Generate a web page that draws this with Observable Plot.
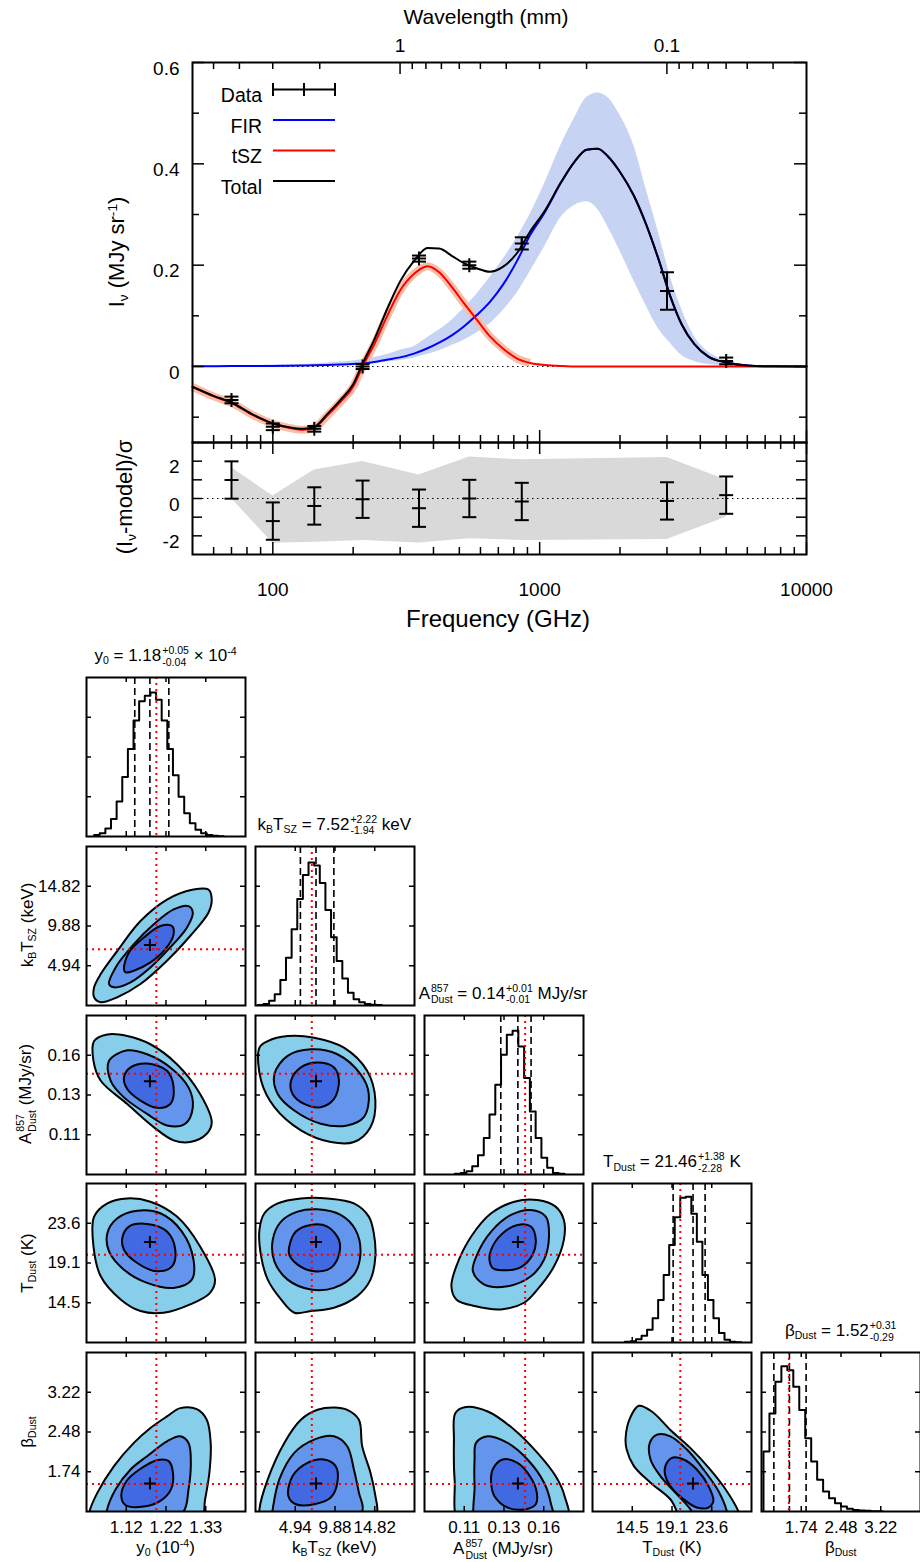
<!DOCTYPE html>
<html>
<head>
<meta charset="utf-8">
<script src="https://cdn.jsdelivr.net/npm/d3@7"></script>
<script src="https://cdn.jsdelivr.net/npm/@observablehq/plot@0.6"></script>
<style>
  body { margin: 0; background: #fff; }
  #root { position: relative; width: 920px; height: 1562px; overflow: hidden; background: #fff;
          font-family: "Liberation Sans", Arial, Helvetica, sans-serif; color: #000; }
  .lbl { position: absolute; white-space: nowrap; line-height: 1; }
  .lbl sub, .lbl sup { font-size: 0.62em; line-height: 0; position: relative; vertical-align: baseline; }
  .lbl sub { top: 0.32em; }
  .lbl sup { top: -0.55em; }
  .ss { display: inline-block; font-size: 0.62em; line-height: 1.1; vertical-align: -0.45em; text-align: left; margin-left: 1px; }
  .ss > span { display: block; }
</style>
</head>
<body>
<div id="root"></div>
<script>
// ===================== DATA: SED panel =====================
const freqData     = [70, 100, 143, 217, 353, 545, 857, 3000, 5000];          // GHz
const intensity    = [-0.066, -0.119, -0.123, 0.000, 0.213, 0.200, 0.243, 0.149, 0.011]; // MJy/sr
const intensityErr = [0.0066, 0.0066, 0.0056, 0.005, 0.006, 0.007, 0.012, 0.037, 0.0066];

const residual     = [0.99, -1.21, -0.40, -0.04, -0.52, 0.00, -0.16, -0.13, 0.18];
const residualErr  = [1, 1, 1, 1, 1, 1, 1, 1, 1];

const bandFreq = [70, 100, 143, 217, 353, 545, 857, 3000, 5000];
const bandLow  = [0.0, -2.40, -2.35, -2.25, -2.38, -2.15, -2.25, -2.20, -1.00];
const bandHigh = [1.65, 0.14, 1.53, 1.98, 1.26, 2.22, 2.07, 2.20, 0.99];

const modelFreq  = [50, 60, 70, 85, 100, 115, 130, 143, 160, 180, 200, 217, 240, 270, 300, 340, 380, 420, 470, 520, 580, 650, 730, 820, 920, 1050, 1200, 1350, 1500, 1650, 1800, 2000, 2250, 2500, 2800, 3100, 3400, 3800, 4300, 5000, 6000, 7500, 10000];
const tszModel   = [-0.040, -0.059, -0.072, -0.097, -0.113, -0.121, -0.125, -0.121, -0.097, -0.069, -0.040, 0.000, 0.044, 0.103, 0.150, 0.184, 0.198, 0.186, 0.156, 0.125, 0.093, 0.060, 0.035, 0.016, 0.007, 0.003, 0.001, 0, 0, 0, 0, 0, 0, 0, 0, 0, 0, 0, 0, 0, 0, 0, 0];
const firModel   = [0.0005, 0.0006, 0.0008, 0.001, 0.0012, 0.0015, 0.002, 0.0025, 0.003, 0.004, 0.005, 0.006, 0.009, 0.014, 0.018, 0.026, 0.036, 0.047, 0.062, 0.079, 0.101, 0.127, 0.162, 0.207, 0.259, 0.306, 0.362, 0.404, 0.428, 0.430, 0.415, 0.384, 0.338, 0.282, 0.209, 0.136, 0.084, 0.044, 0.019, 0.008, 0.002, 0.0003, 0];
const firLow     = [0, 0, 0, 0, 0, 0.0005, 0.001, 0.001, 0.0015, 0.002, 0.003, 0.004, 0.006, 0.009, 0.012, 0.017, 0.024, 0.031, 0.042, 0.052, 0.066, 0.084, 0.111, 0.144, 0.187, 0.239, 0.294, 0.318, 0.325, 0.310, 0.276, 0.228, 0.170, 0.121, 0.073, 0.045, 0.022, 0.010, 0.004, 0.0015, 0, 0, 0];
const firHigh    = [0.001, 0.001, 0.0015, 0.002, 0.003, 0.0035, 0.004, 0.005, 0.007, 0.009, 0.011, 0.014, 0.018, 0.024, 0.032, 0.040, 0.057, 0.072, 0.092, 0.115, 0.142, 0.175, 0.212, 0.253, 0.300, 0.364, 0.436, 0.490, 0.531, 0.540, 0.531, 0.496, 0.437, 0.352, 0.261, 0.174, 0.114, 0.059, 0.028, 0.011, 0.003, 0.0005, 0];
const totalModel = [-0.040, -0.058, -0.071, -0.096, -0.112, -0.120, -0.123, -0.119, -0.094, -0.065, -0.035, 0.006, 0.053, 0.117, 0.168, 0.210, 0.234, 0.233, 0.218, 0.204, 0.194, 0.187, 0.197, 0.223, 0.266, 0.309, 0.363, 0.404, 0.428, 0.430, 0.415, 0.384, 0.338, 0.282, 0.209, 0.136, 0.084, 0.044, 0.019, 0.008, 0.002, 0.0003, 0];
const tszBandMaxFreq = 920;   // the tSZ uncertainty band vanishes beyond this frequency

const freqMajorTicks   = [100, 1000, 10000];
const freqMinorTicks   = [60, 70, 80, 90, 200, 300, 400, 500, 600, 700, 800, 900, 2000, 3000, 4000, 5000, 6000, 7000, 8000, 9000];
const freqTickLabels   = ["100", "1000", "10000"];
const wavelengthMajor  = [1, 0.1];           // mm
const wavelengthLabels = ["1", "0.1"];
const wavelengthMinor  = [5, 4, 3, 2, 0.9, 0.8, 0.7, 0.6, 0.5, 0.4, 0.3, 0.2, 0.09, 0.08, 0.07, 0.06, 0.05, 0.04];
const intensityMajor   = [0, 0.2, 0.4, 0.6];
const intensityLabels  = ["0", "0.2", "0.4", "0.6"];
const intensityMinor   = [-0.1, 0.1, 0.3, 0.5];
const residualTicks    = [-2, -1, 0, 1, 2];
const residualLabelTicks = [-2, 0, 2];
const residualLabels   = ["-2", "0", "2"];
const legendNames      = ["Data", "FIR", "tSZ", "Total"];

// ===================== DATA: corner plot =====================
// parameters: y0 (1e-4), kB T_SZ (keV), A_Dust^857 (MJy/sr), T_Dust (K), beta_Dust
const paramLo    = [1.0125, 0, 0.0875, 9.95, 1.0];
const paramHi    = [1.4325, 19.76, 0.1815, 28.15, 3.96];
const paramTicks = [[1.1175, 1.2225, 1.3275], [4.94, 9.88, 14.82], [0.111, 0.1345, 0.158], [14.5, 19.05, 23.6], [1.74, 2.48, 3.22]];
const paramTickLabels = [["1.12", "1.22", "1.33"], ["4.94", "9.88", "14.82"], ["0.11", "0.13", "0.16"], ["14.5", "19.1", "23.6"], ["1.74", "2.48", "3.22"]];
const trueValues = [1.197, 7.0, 0.147, 20.0, 1.51];
const bestFit    = [1.18, 7.52, 0.1427, 21.46, 1.52];
const paramQuantiles = [[1.14, 1.18, 1.23], [5.58, 7.52, 9.74], [0.1326, 0.1427, 0.1505], [19.18, 21.46, 22.84], [1.23, 1.52, 1.83]];
const titleValue = ["1.18", "7.52", "0.14", "21.46", "1.52"];
const titlePlus  = ["+0.05", "+2.22", "+0.01", "+1.38", "+0.31"];
const titleMinus = ["-0.04", "-1.94", "-0.01", "-2.28", "-0.29"];

const histStart    = [1.0326, 0.29, 0.1055, 13.666, 1.037];
const histBinWidth = [0.014875, 0.70, 0.003408, 0.633, 0.111];
const histY0   = [0.01, 0.02, 0.05, 0.11, 0.22, 0.375, 0.55, 0.73, 0.85, 0.885, 0.906, 0.86, 0.73, 0.55, 0.385, 0.25, 0.146, 0.083, 0.042, 0.02, 0.01, 0.005, 0.002];
const histKT   = [0.003, 0.01, 0.03, 0.07, 0.16, 0.30, 0.48, 0.67, 0.82, 0.90, 0.88, 0.77, 0.60, 0.43, 0.28, 0.17, 0.08, 0.04, 0.02, 0.01, 0.005, 0.003];
const histA    = [0.004, 0.01, 0.021, 0.052, 0.121, 0.23, 0.377, 0.565, 0.753, 0.879, 0.904, 0.805, 0.607, 0.397, 0.23, 0.105, 0.042, 0.01, 0.004];
const histT    = [0.004, 0.008, 0.02, 0.042, 0.08, 0.153, 0.268, 0.425, 0.613, 0.787, 0.91, 0.916, 0.81, 0.634, 0.425, 0.268, 0.153, 0.06, 0.017, 0.005, 0.002];
const histBeta = [0.377, 0.617, 0.816, 0.914, 0.889, 0.785, 0.638, 0.46, 0.314, 0.199, 0.126, 0.084, 0.052, 0.031, 0.018, 0.01, 0.006, 0.004, 0.002, 0.001];
const histTicks = [0.25, 0.5, 0.75];

// credible-region contours [outer, middle, inner], points as [x, y] in data units
const contourY0KT = [
  [[1.0326,2.26],[1.0501,3.91],[1.0939,6.79],[1.1551,10.50],[1.2251,13.17],[1.2951,14.41],[1.3345,14.41],[1.3433,13.17],[1.3345,11.53],[1.2864,8.64],[1.2251,5.56],[1.1551,2.67],[1.0939,1.03],[1.0501,0.41],[1.0326,1.03]],
  [[1.072,2.67],[1.0895,4.73],[1.1376,7.62],[1.1901,10.09],[1.2426,11.94],[1.282,12.35],[1.2934,11.53],[1.2776,9.67],[1.2295,7.0],[1.1814,4.73],[1.1289,2.88],[1.0851,2.26]],
  [[1.1114,4.53],[1.1245,6.59],[1.1639,8.44],[1.2076,9.88],[1.2383,9.88],[1.2426,8.85],[1.2208,7.0],[1.1814,5.35],[1.1376,4.32],[1.1158,4.12]]
];
const contourY0A = [
  [[1.0326,0.1664],[1.0676,0.1703],[1.1201,0.1694],[1.1814,0.1645],[1.2514,0.1527],[1.3126,0.1351],[1.3433,0.1184],[1.3301,0.1116],[1.2864,0.1067],[1.2426,0.1077],[1.1901,0.1155],[1.1201,0.1292],[1.0501,0.1429],[1.0309,0.1547]],
  [[1.072,0.1547],[1.1201,0.1609],[1.1726,0.1586],[1.2339,0.1508],[1.282,0.1390],[1.2934,0.1273],[1.2733,0.1175],[1.2251,0.1165],[1.1726,0.1233],[1.1114,0.1331],[1.0764,0.1429]],
  [[1.1114,0.1449],[1.1289,0.1508],[1.1726,0.1531],[1.2251,0.1488],[1.2426,0.1390],[1.2339,0.1292],[1.1989,0.1269],[1.1551,0.1312],[1.1201,0.1380]]
];
const contourKTA = [
  [[0.49,0.1625],[1.52,0.1664],[3.99,0.1694],[7.29,0.1684],[10.99,0.1625],[13.87,0.1488],[14.90,0.1312],[14.29,0.1155],[12.23,0.1067],[9.35,0.1067],[5.64,0.1136],[2.35,0.1273],[0.70,0.1429]],
  [[2.35,0.1468],[3.99,0.1576],[6.88,0.1615],[10.17,0.1586],[13.05,0.1468],[14.08,0.1351],[13.46,0.1214],[11.40,0.1165],[8.11,0.1175],[4.82,0.1253],[2.76,0.1351]],
  [[4.41,0.1429],[5.64,0.1508],[7.70,0.1537],[9.76,0.1508],[10.37,0.1429],[9.76,0.1322],[8.11,0.1273],[6.05,0.1292],[4.61,0.1351]]
];
const contourY0T = [
  [[1.0326,24.36],[1.0676,25.87],[1.1201,26.44],[1.1814,26.06],[1.2514,24.36],[1.3126,20.95],[1.352,17.15],[1.3389,15.64],[1.2864,14.31],[1.2164,13.36],[1.1551,13.55],[1.1026,14.88],[1.0501,17.53],[1.0309,20.95]],
  [[1.0676,22.46],[1.0939,24.17],[1.1464,25.04],[1.2076,24.74],[1.2645,22.65],[1.2951,19.43],[1.2908,17.15],[1.2426,16.20],[1.1726,16.77],[1.1114,18.29],[1.072,20.38]],
  [[1.107,21.89],[1.1245,23.22],[1.1726,23.52],[1.2251,22.65],[1.247,20.57],[1.2383,18.67],[1.1989,18.10],[1.1464,19.05],[1.1114,20.57]]
];
const contourKTT = [
  [[0.49,22.84],[1.11,24.74],[2.76,25.87],[5.64,26.44],[8.93,26.44],[12.23,25.87],[14.08,24.36],[14.70,22.46],[14.90,19.81],[14.29,17.15],[12.64,15.26],[9.76,13.93],[6.88,13.55],[4.82,13.36],[3.17,14.88],[1.52,17.15],[0.70,19.81]],
  [[2.14,21.70],[3.17,23.79],[5.23,24.93],[7.70,25.19],[10.58,24.55],[12.43,22.84],[13.05,20.19],[12.23,17.72],[9.76,16.20],[6.88,16.02],[3.99,17.15],[2.35,19.24]],
  [[4.20,20.95],[5.02,22.65],[6.88,23.41],[8.93,23.22],[10.37,21.70],[10.37,20.0],[9.35,18.48],[7.29,18.10],[5.23,18.86],[4.20,20.0]]
];
const contourAT = [
  [[0.1034,16.39],[0.1063,18.67],[0.1151,22.08],[0.1269,24.74],[0.1406,26.06],[0.1543,26.25],[0.1650,25.50],[0.1699,23.98],[0.1699,21.70],[0.1641,18.67],[0.1543,16.02],[0.1464,14.50],[0.1327,13.74],[0.1171,14.12],[0.1063,14.88]],
  [[0.1161,18.10],[0.1190,20.19],[0.1269,22.65],[0.1386,24.55],[0.1504,25.12],[0.1592,24.36],[0.1611,22.08],[0.1582,19.43],[0.1504,17.53],[0.1366,16.39],[0.1229,16.58]],
  [[0.1259,19.43],[0.1269,20.57],[0.1327,22.27],[0.1425,23.41],[0.1504,23.22],[0.1533,21.70],[0.1514,20.0],[0.1445,18.59],[0.1347,18.21],[0.1278,18.48]]
];
const contourY0Beta = [
  [[1.0195,0.98],[1.0414,1.351],[1.0851,1.845],[1.1376,2.277],[1.1814,2.554],[1.2251,2.77],[1.2601,2.924],[1.3039,2.905],[1.3301,2.708],[1.3406,2.277],[1.3371,1.721],[1.3258,1.228],[1.3126,0.796],[1.1551,0.611],[1.0169,0.796]],
  [[1.0659,1.012],[1.0895,1.413],[1.1289,1.783],[1.1726,2.03],[1.2251,2.307],[1.2601,2.40],[1.282,2.277],[1.2881,1.906],[1.282,1.413],[1.2671,0.981],[1.1814,0.735],[1.0633,0.735]],
  [[1.1044,1.29],[1.1184,1.567],[1.1551,1.795],[1.1989,1.956],[1.2295,1.937],[1.2409,1.721],[1.2356,1.413],[1.2076,1.197],[1.1639,1.092],[1.1158,1.117]]
];
const contourKTBeta = [
  [[0.49,1.04],[1.52,1.598],[3.58,2.277],[5.64,2.708],[7.70,2.893],[9.76,2.936],[11.40,2.893],[12.85,2.708],[13.26,2.215],[14.29,1.721],[14.90,1.29],[15.11,0.981],[13.87,0.673],[0.70,0.673]],
  [[2.14,1.043],[2.96,1.598],[4.82,2.091],[7.29,2.338],[9.76,2.40],[11.40,2.215],[12.23,1.783],[12.85,1.351],[13.26,1.012],[9.76,0.735],[1.93,0.735]],
  [[4.08,1.29],[4.61,1.66],[6.46,1.906],[8.52,1.968],[9.96,1.845],[10.17,1.536],[9.35,1.259],[7.29,1.135],[5.02,1.135]]
];
const contourABeta = [
  [[0.1057,2.831],[0.1112,2.942],[0.1249,2.862],[0.1406,2.523],[0.1543,2.091],[0.1650,1.66],[0.1703,1.29],[0.1719,0.796],[0.1092,0.735],[0.1053,1.598],[0.1049,2.338]],
  [[0.1180,2.277],[0.1249,2.40],[0.1366,2.277],[0.1484,1.968],[0.1582,1.536],[0.1621,1.166],[0.1631,0.796],[0.1190,0.735],[0.1171,1.475],[0.1171,1.968]],
  [[0.1278,1.783],[0.1337,1.968],[0.1425,1.906],[0.1504,1.629],[0.1539,1.351],[0.1533,1.135],[0.1474,1.043],[0.1366,1.074],[0.1288,1.29],[0.1269,1.536]]
];
const contourTBeta = [
  [[13.74,2.369],[14.23,2.734],[15.26,2.968],[16.78,2.857],[18.86,2.518],[21.14,2.184],[23.41,1.783],[25.31,1.382],[26.63,1.012],[27.2,0.735],[20.76,0.735],[18.86,1.228],[16.59,1.536],[14.69,1.845],[13.86,2.153]],
  [[16.51,2.277],[17.34,2.431],[18.86,2.40],[20.76,2.153],[22.65,1.783],[24.36,1.382],[25.31,1.012],[25.5,0.735],[22.27,0.735],[21.14,1.043],[19.62,1.32],[17.72,1.66],[16.59,1.968]],
  [[18.29,1.845],[19.05,1.999],[20.38,1.968],[21.89,1.783],[23.22,1.475],[23.79,1.197],[23.22,1.074],[21.89,1.074],[20.38,1.228],[18.86,1.475],[18.29,1.66]]
];

// ===================== RENDERING =====================
const root = document.getElementById("root");
const FONT = "'Liberation Sans', Arial, Helvetica, sans-serif";
const baseStyle = {fontFamily: FONT, color: "black", background: "transparent", overflow: "visible"};
const C_MM_GHZ = 299.792458;

const hbar = {draw(ctx, size) { const r = Math.sqrt(size / Math.PI); ctx.moveTo(-r, 0); ctx.lineTo(r, 0); }};
const plus = {draw(ctx, size) { const r = Math.sqrt(size / Math.PI); ctx.moveTo(-r, 0); ctx.lineTo(r, 0); ctx.moveTo(0, -r); ctx.lineTo(0, r); }};

function place(svg, left, top) {
  svg.style.position = "absolute";
  svg.style.left = left + "px";
  svg.style.top = top + "px";
  svg.style.maxWidth = "none";
  svg.style.overflow = "visible";
  root.appendChild(svg);
}
function addLabel(html, x, y, size, rotate) {
  const el = document.createElement("div");
  el.className = "lbl";
  el.style.left = x + "px";
  el.style.top = y + "px";
  el.style.fontSize = size + "px";
  el.style.transform = "translate(-50%, -50%)" + (rotate ? " rotate(-90deg)" : "");
  el.innerHTML = html;
  root.appendChild(el);
}
const ss = (a, b) => `<span class="ss"><span>${a}</span><span>${b}</span></span>`;

const tickStyle = {stroke: "black", strokeWidth: 1.5};
const tBottom = (vals, acc, len, H) => Plot.tickX(vals, {x: acc, insetTop: H - len, ...tickStyle});
const tTop    = (vals, acc, len, H) => Plot.tickX(vals, {x: acc, insetBottom: H - len, ...tickStyle});
const tLeft   = (vals, acc, len, W) => Plot.tickY(vals, {y: acc, insetRight: W - len, ...tickStyle});
const tRight  = (vals, acc, len, W) => Plot.tickY(vals, {y: acc, insetLeft: W - len, ...tickStyle});
const id = d => d;
const dotted0 = {stroke: "black", strokeWidth: 1.2, strokeDasharray: "1.5,3.5"};

// ---------- SED panel ----------
const SED = {left: 192, right: 806, top: 62, bottom: 442};
const H1 = SED.bottom - SED.top, W1 = SED.right - SED.left;
const iM = d3.range(modelFreq.length);
const iTsz = iM.filter(i => modelFreq[i] <= tszBandMaxFreq);
const iD = d3.range(freqData.length);
const fx = i => modelFreq[i];
const curve = "monotone-x";

const sedPlot = Plot.plot({
  width: 920, height: SED.bottom,
  marginTop: SED.top, marginBottom: 0, marginLeft: SED.left, marginRight: 920 - SED.right,
  style: {...baseStyle, fontSize: "19px"},
  x: {type: "log", domain: [50, 10000], axis: null},
  y: {domain: [-0.15, 0.6]},
  marks: [
    Plot.ruleY([0], dotted0),
    Plot.areaY(iM, {x: fx, y1: i => firLow[i], y2: i => firHigh[i], fill: "#c6d3f3", curve}),
    Plot.line(iTsz, {x: fx, y: i => tszModel[i], stroke: "#f7bfa9", strokeWidth: 8, strokeLinecap: "butt", curve}),
    Plot.line(iM, {x: fx, y: i => firModel[i], stroke: "#0000ff", strokeWidth: 2, curve}),
    Plot.line(iM, {x: fx, y: i => tszModel[i], stroke: "#ff0000", strokeWidth: 2, curve}),
    Plot.line(iM, {x: fx, y: i => totalModel[i], stroke: "black", strokeWidth: 2, curve}),
    Plot.ruleX(iD, {x: i => freqData[i], y1: i => intensity[i] - intensityErr[i], y2: i => intensity[i] + intensityErr[i], stroke: "black", strokeWidth: 2}),
    Plot.dot(iD, {x: i => freqData[i], y: i => intensity[i] - intensityErr[i], symbol: hbar, r: 7, stroke: "black", strokeWidth: 2, fill: "none"}),
    Plot.dot(iD, {x: i => freqData[i], y: i => intensity[i] + intensityErr[i], symbol: hbar, r: 7, stroke: "black", strokeWidth: 2, fill: "none"}),
    Plot.dot(iD, {x: i => freqData[i], y: i => intensity[i], symbol: plus, r: 7, stroke: "black", strokeWidth: 2, fill: "none"}),
    tBottom(freqMajorTicks, id, 12, H1),
    tBottom(freqMinorTicks, id, 7, H1),
    tTop(wavelengthMajor, d => C_MM_GHZ / d, 12, H1),
    tTop(wavelengthMinor, d => C_MM_GHZ / d, 7, H1),
    tLeft(intensityMajor, id, 12, W1),
    tLeft(intensityMinor, id, 7, W1),
    tRight(intensityMajor, id, 12, W1),
    tRight(intensityMinor, id, 7, W1),
    Plot.frame({stroke: "black", strokeWidth: 2}),
    Plot.axisY(intensityMajor, {anchor: "left", tickSize: 0, tickPadding: 13, dy: 6, fontSize: 19, label: null,
      tickFormat: d => intensityLabels[intensityMajor.indexOf(d)]}),
    Plot.text(wavelengthMajor, {x: d => C_MM_GHZ / d, text: (d, i) => wavelengthLabels[i], frameAnchor: "top", dy: -24, fontSize: 19})
  ]
});
place(sedPlot, 0, 0);

// ---------- residual panel ----------
const RES = {top: 442, bottom: 554};
const H2 = RES.bottom - RES.top;
const iB = d3.range(bandFreq.length);
const resPlot = Plot.plot({
  width: 920, height: H2 + 90,
  marginTop: 0, marginBottom: 90, marginLeft: SED.left, marginRight: 920 - SED.right,
  style: {...baseStyle, fontSize: "19px"},
  x: {type: "log", domain: [50, 10000]},
  y: {domain: [-3, 3]},
  marks: [
    Plot.areaY(iB, {x: i => bandFreq[i], y1: i => bandLow[i], y2: i => bandHigh[i], fill: "#d9d9d9"}),
    Plot.ruleY([0], dotted0),
    Plot.ruleX(iD, {x: i => freqData[i], y1: i => residual[i] - residualErr[i], y2: i => residual[i] + residualErr[i], stroke: "black", strokeWidth: 2}),
    Plot.dot(iD, {x: i => freqData[i], y: i => residual[i] - residualErr[i], symbol: hbar, r: 7, stroke: "black", strokeWidth: 2, fill: "none"}),
    Plot.dot(iD, {x: i => freqData[i], y: i => residual[i] + residualErr[i], symbol: hbar, r: 7, stroke: "black", strokeWidth: 2, fill: "none"}),
    Plot.dot(iD, {x: i => freqData[i], y: i => residual[i], symbol: hbar, r: 7, stroke: "black", strokeWidth: 2, fill: "none"}),
    tBottom(freqMajorTicks, id, 12, H2),
    tBottom(freqMinorTicks, id, 7, H2),
    tTop(freqMajorTicks, id, 12, H2),
    tTop(freqMinorTicks, id, 7, H2),
    tLeft(residualTicks, id, 10, W1),
    tRight(residualTicks, id, 10, W1),
    Plot.frame({stroke: "black", strokeWidth: 2}),
    Plot.axisX(freqMajorTicks, {anchor: "bottom", tickSize: 0, tickPadding: 28, fontSize: 19, label: null,
      tickFormat: d => freqTickLabels[freqMajorTicks.indexOf(d)]}),
    Plot.axisY(residualLabelTicks, {anchor: "left", tickSize: 0, tickPadding: 13, dy: 6, fontSize: 19, label: null,
      tickFormat: d => residualLabels[residualLabelTicks.indexOf(d)]})
  ]
});
place(resPlot, 0, RES.top);

// ---------- legend (overlay) ----------
{
  const legendColors = ["black", "#0000ff", "#ff0000", "black"];
  const svg = d3.create("svg").attr("width", 920).attr("height", 220)
    .style("position", "absolute").style("left", "0px").style("top", "0px").style("overflow", "visible");
  legendNames.forEach((name, k) => {
    const y = 89.5 + k * 30.5;
    svg.append("text").attr("x", 262).attr("y", y + 6).attr("dy", "0.35em").attr("text-anchor", "end")
      .attr("font-family", FONT).attr("font-size", 19.5).text(name);
    svg.append("line").attr("x1", 273).attr("x2", 335).attr("y1", y).attr("y2", y)
      .attr("stroke", legendColors[k]).attr("stroke-width", 2);
    if (k === 0) {
      for (const xx of [273, 304, 335]) svg.append("line").attr("x1", xx).attr("x2", xx).attr("y1", y - 6.5).attr("y2", y + 6.5)
        .attr("stroke", "black").attr("stroke-width", 2);
    }
  });
  root.appendChild(svg.node());
}

// ---------- axis titles of SED figure ----------
addLabel("Wavelength (mm)", 486, 16, 21);
addLabel("Frequency (GHz)", 498, 619, 24);
addLabel("I<sub>ν</sub> (MJy sr<sup>-1</sup>)", 117, 252, 22, true);
addLabel("(I<sub>ν</sub>-model)/σ", 125, 497, 22, true);

// ---------- corner plot ----------
const colLeft = [86, 254.8, 423.6, 592.4, 761.2];
const rowTop  = [677, 845.8, 1014.6, 1183.4, 1352.2];
const S = 159;
const histHeights = [histY0, histKT, histA, histT, histBeta];
const contourTable = [
  {c: 0, r: 1, levels: contourY0KT}, {c: 0, r: 2, levels: contourY0A}, {c: 1, r: 2, levels: contourKTA},
  {c: 0, r: 3, levels: contourY0T}, {c: 1, r: 3, levels: contourKTT}, {c: 2, r: 3, levels: contourAT},
  {c: 0, r: 4, levels: contourY0Beta}, {c: 1, r: 4, levels: contourKTBeta}, {c: 2, r: 4, levels: contourABeta}, {c: 3, r: 4, levels: contourTBeta}
];
const levelFills = ["#87ceeb", "#6495ed", "#4169e1"];
const redDotted = {stroke: "#ff0000", strokeWidth: 2, strokeDasharray: "2,4"};
const tickLabel = (p, d) => paramTickLabels[p][paramTicks[p].indexOf(d)];

function panel(r, c) {
  const isHist = r === c;
  const ml = (c === 0 && r > 0) ? 86 : 0;
  const mb = r === 4 ? 50 : 0;
  const marks = [];
  if (isHist) {
    const hs = histHeights[c], st = histStart[c], w = histBinWidth[c];
    const pts = [[st, 0]];
    hs.forEach((h, k) => pts.push([st + k * w, h]));
    pts.push([st + hs.length * w, hs[hs.length - 1]]);
    pts.push([st + hs.length * w, 0]);
    marks.push(Plot.line(pts, {x: d => d[0], y: d => d[1], curve: "step-after", stroke: "black", strokeWidth: 2, clip: true}));
    marks.push(Plot.ruleX(paramQuantiles[c], {x: id, stroke: "black", strokeWidth: 1.6, strokeDasharray: "7,4"}));
    marks.push(Plot.ruleX([trueValues[c]], {x: id, ...redDotted}));
  } else {
    const entry = contourTable.find(e => e.r === r && e.c === c);
    entry.levels.forEach((poly, k) => marks.push(Plot.line(poly, {x: d => d[0], y: d => d[1], curve: "catmull-rom-closed",
      fill: levelFills[k], stroke: "black", strokeWidth: 2, clip: true})));
    marks.push(Plot.ruleX([trueValues[c]], {x: id, ...redDotted}));
    marks.push(Plot.ruleY([trueValues[r]], {y: id, ...redDotted}));
    marks.push(Plot.dot([[bestFit[c], bestFit[r]]], {x: d => d[0], y: d => d[1], symbol: plus, r: 6, stroke: "black", strokeWidth: 2, fill: "none"}));
  }
  const xt = paramTicks[c];
  const yt = isHist ? histTicks : paramTicks[r];
  marks.push(tBottom(xt, id, 5, S), tTop(xt, id, 5, S), tLeft(yt, id, 5, S), tRight(yt, id, 5, S));
  marks.push(Plot.frame({stroke: "black", strokeWidth: 2}));
  if (ml) marks.push(Plot.axisY(paramTicks[r], {anchor: "left", tickSize: 0, tickPadding: 6, fontSize: 17, label: null, tickFormat: d => tickLabel(r, d)}));
  if (mb) marks.push(Plot.axisX(paramTicks[c], {anchor: "bottom", tickSize: 0, tickPadding: 9, fontSize: 17, label: null, tickFormat: d => tickLabel(c, d)}));
  const xOpt = {domain: [paramLo[c], paramHi[c]]};
  if (!mb) xOpt.axis = null;
  const yOpt = {domain: isHist ? [0, 1] : [paramLo[r], paramHi[r]]};
  if (!ml) yOpt.axis = null;
  const p = Plot.plot({
    width: S + ml, height: S + mb,
    marginLeft: ml, marginRight: 0, marginTop: 0, marginBottom: mb,
    style: {...baseStyle, fontSize: "17px"},
    x: xOpt, y: yOpt, marks
  });
  place(p, colLeft[c] - ml, rowTop[r]);
}
for (let r = 0; r < 5; r++) for (let c = 0; c <= r; c++) panel(r, c);

// corner texts
const symHTML = [
  "y<sub>0</sub>",
  "k<sub>B</sub>T<sub>SZ</sub>",
  "A" + ss("857", "Dust"),
  "T<sub>Dust</sub>",
  "β<sub>Dust</sub>"
];
const unitHTML = [" × 10<sup>-4</sup>", " keV", " MJy/sr", " K", ""];
const axisHTML = [
  "y<sub>0</sub> (10<sup>-4</sup>)",
  "k<sub>B</sub>T<sub>SZ</sub> (keV)",
  "A" + ss("857", "Dust") + " (MJy/sr)",
  "T<sub>Dust</sub> (K)",
  "β<sub>Dust</sub>"
];
const axisTitleY = [1547, 1547, 1550, 1547, 1547];
for (let k = 0; k < 5; k++) {
  const cx = colLeft[k] + S / 2;
  addLabel(`${symHTML[k]} = ${titleValue[k]}${ss(titlePlus[k], titleMinus[k])}${unitHTML[k]}`, cx, rowTop[k] - 20, 17);
  addLabel(axisHTML[k], cx, axisTitleY[k], 17);
  if (k > 0) addLabel(axisHTML[k], 27, rowTop[k] + S / 2, 17, true);
}
</script>
</body>
</html>
